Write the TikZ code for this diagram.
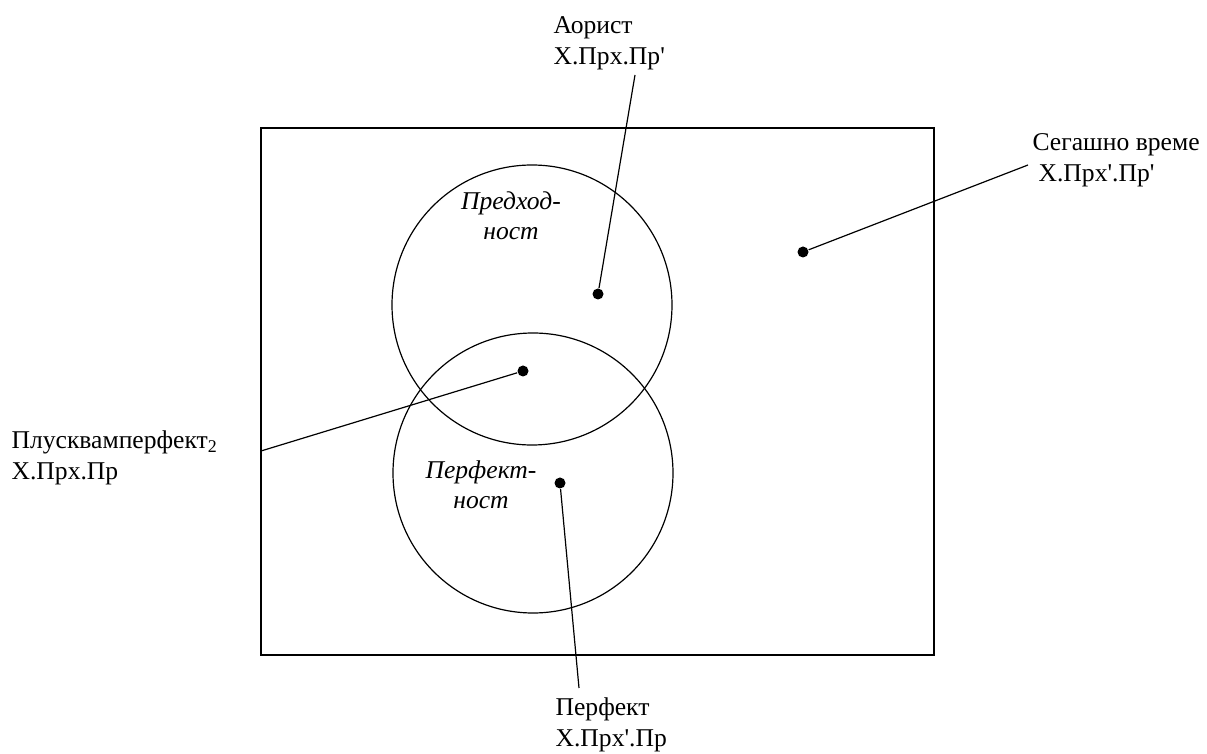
\documentclass[tikz,border=0pt]{standalone}
\usepackage{fontspec}
\setmainfont{Liberation Serif}[Ligatures=TeXOff]
\begin{document}
\begin{tikzpicture}[x=0.5pt,y=-0.5pt,line width=0.6pt,
  dot/.style={circle,fill,inner sep=0pt,minimum size=5.5pt},
  lbl/.style={anchor=base west,inner sep=0pt,align=left,font=\fontsize{12.8}{15.6}\selectfont},
  area/.style={inner sep=0pt,align=center,font=\fontsize{12.8}{15}\selectfont\itshape}]
\useasboundingbox (0,0) rectangle (1207,754);
\draw[line width=0.7pt] (261,128) rectangle (934,655);
\draw (532,305) circle[radius=140];
\draw (533,473) circle[radius=140];
\node[area,anchor=base] (pred) at (511,240) {Предход-\\ност};
\node[area,anchor=base] (perfn) at (481,509) {Перфект-\\ност};
\node[dot] (daor) at (598,294) {};\node[dot] (dseg) at (803,252) {};
\node[dot] (dplu) at (523,371) {};\node[dot] (dper) at (560,483) {};
\node[lbl] (aor) at (553,65) {Аорист\\Х.Прх.Пр'};
\node[lbl] (seg) at (1032,182) {Сегашно време\\\hspace*{3pt}Х.Прх'.Пр'};
\node[lbl] (plu) at (11,480) {Плусквамперфект\textsubscript{2}\\Х.Прх.Пр};
\node[lbl] (per) at (555,747) {Перфект\\Х.Прх'.Пр};
\coordinate (caor) at (635,75);\coordinate (cseg) at (1028,165);
\coordinate (cplu) at (261,451);\coordinate (cper) at (579,688);
\draw (daor)--(caor);\draw (dseg)--(cseg);
\draw (dplu)--(cplu);\draw (dper)--(cper);
\end{tikzpicture}
\end{document}
